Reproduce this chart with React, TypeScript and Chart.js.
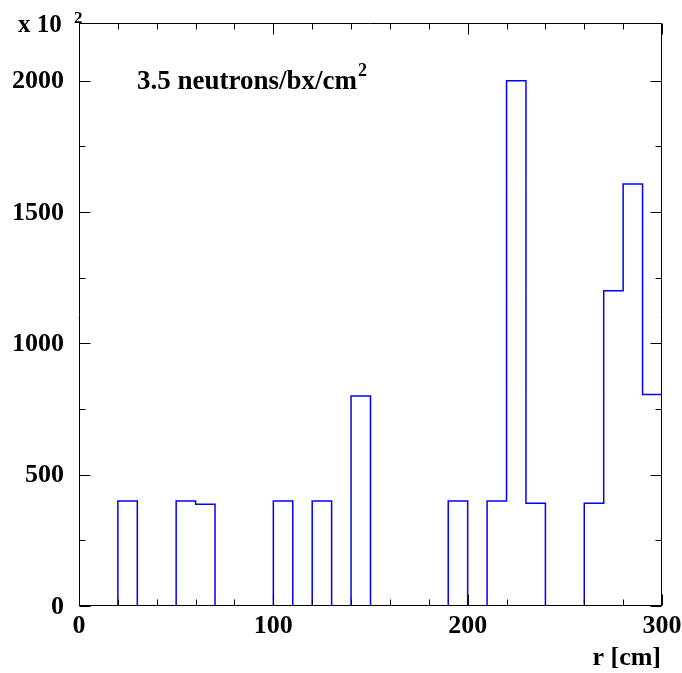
import { useEffect, useRef } from "react";
import { Chart, registerables } from "chart.js";

Chart.register(...registerables);

// Histogram of hit radius: 30 bins of 10 cm from 0 to 300 cm
const binEdges = [
  0, 10, 20, 30, 40, 50, 60, 70, 80, 90, 100, 110, 120, 130, 140, 150,
  160, 170, 180, 190, 200, 210, 220, 230, 240, 250, 260, 270, 280, 290, 300,
];
// Counts per bin (in units of 10^2)
const binCounts = [
  0, 0, 400, 0, 0, 400, 387, 0, 0, 0, 400, 0, 400, 0, 800,
  0, 0, 0, 0, 400, 0, 400, 2000, 391, 0, 0, 391, 1200, 1607, 805,
];

const xMin = 0;
const xMax = 300;
const yMin = 0;
const yMax = 2220;

const xMajorTicks = [0, 100, 200, 300];
const xMinorTicks = [20, 40, 60, 80, 120, 140, 160, 180, 220, 240, 260, 280];
const yMajorTicks = [0, 500, 1000, 1500, 2000];
const yMinorTicks = [250, 750, 1250, 1750];

const xTitle = "r [cm]";
const yExponentBase = "x 10";
const yExponentPower = "2";
const noteText = "3.5 neutrons/bx/cm";
const noteSuperscript = "2";

const W = 682;
const H = 673;
const FONT = '"Liberation Serif", "Times New Roman", serif';

const framePlugin = {
  id: "rootFrame",
  afterDatasetsDraw(chart: any) {
    const { ctx, chartArea } = chart;
    const xs = chart.scales.x;
    const ys = chart.scales.y;
    const L = Math.round(chartArea.left) + 0.5;
    const R = Math.round(chartArea.right) - 0.5;
    const T = Math.round(chartArea.top) + 0.5;
    const B = Math.round(chartArea.bottom) - 0.5;

    ctx.save();
    ctx.strokeStyle = "#000";
    ctx.lineWidth = 1;

    // frame
    ctx.beginPath();
    ctx.rect(L, T, R - L, B - T);
    ctx.stroke();

    // inward ticks on all four sides
    const majorLen = 11;
    const minorLen = 6;
    ctx.beginPath();
    const xTick = (v: number, len: number) => {
      const px = Math.round(xs.getPixelForValue(v)) + 0.5;
      ctx.moveTo(px, B);
      ctx.lineTo(px, B - len);
      ctx.moveTo(px, T);
      ctx.lineTo(px, T + len);
    };
    const yTick = (v: number, len: number) => {
      const py = Math.round(ys.getPixelForValue(v)) + 0.5;
      ctx.moveTo(L, py);
      ctx.lineTo(L + len, py);
      ctx.moveTo(R, py);
      ctx.lineTo(R - len, py);
    };
    xMajorTicks.forEach((v) => xTick(v, majorLen));
    xMinorTicks.forEach((v) => xTick(v, minorLen));
    yMajorTicks.forEach((v) => yTick(v, majorLen));
    yMinorTicks.forEach((v) => yTick(v, minorLen));
    ctx.stroke();

    // tick labels
    ctx.fillStyle = "#000";
    ctx.font = `bold 26px ${FONT}`;
    ctx.textAlign = "right";
    ctx.textBaseline = "middle";
    yMajorTicks.forEach((v) => {
      ctx.fillText(String(v), 64, ys.getPixelForValue(v) + 1);
    });
    ctx.textAlign = "center";
    ctx.textBaseline = "alphabetic";
    xMajorTicks.forEach((v) => {
      ctx.fillText(String(v), xs.getPixelForValue(v), 633);
    });

    // axis title
    ctx.textAlign = "right";
    ctx.fillText(xTitle, 661, 665);

    // exponent of the y axis
    ctx.textAlign = "left";
    ctx.font = `bold 25px ${FONT}`;
    ctx.fillText(yExponentBase, 18, 32);
    ctx.font = `bold 17px ${FONT}`;
    ctx.fillText(yExponentPower, 74, 23);

    // annotation
    ctx.font = `bold 27px ${FONT}`;
    ctx.fillText(noteText, 137, 89);
    const w = ctx.measureText(noteText).width;
    ctx.font = `bold 18px ${FONT}`;
    ctx.fillText(noteSuperscript, 137 + w + 1, 76);

    ctx.restore();
  },
};

export default function App() {
  const canvasRef = useRef<HTMLCanvasElement | null>(null);

  useEffect(() => {
    document.body.style.margin = "0";
    const canvas = canvasRef.current;
    if (!canvas) return;

    // step outline: each bin's count holds from its lower edge to the next
    const points = binCounts.map((c, i) => ({ x: binEdges[i], y: c }));
    points.push({ x: binEdges[binEdges.length - 1], y: binCounts[binCounts.length - 1] });
    points.push({ x: binEdges[binEdges.length - 1], y: 0 });

    const chart = new Chart(canvas, {
      type: "line",
      data: {
        datasets: [
          {
            data: points,
            borderColor: "#0000ff",
            borderWidth: 1.5,
            pointRadius: 0,
            fill: false,
            stepped: "before",
            tension: 0,
          },
        ],
      },
      options: {
        responsive: false,
        animation: false,
        layout: { padding: { left: 79, right: 20, top: 23, bottom: 67 } },
        plugins: {
          legend: { display: false },
          tooltip: { enabled: false },
        },
        scales: {
          x: { type: "linear", min: xMin, max: xMax, display: false },
          y: { type: "linear", min: yMin, max: yMax, display: false },
        },
      },
      plugins: [framePlugin],
    });

    return () => chart.destroy();
  }, []);

  return (
    <div style={{ width: W, height: H, background: "#fff" }}>
      <canvas ref={canvasRef} width={W} height={H} />
    </div>
  );
}
